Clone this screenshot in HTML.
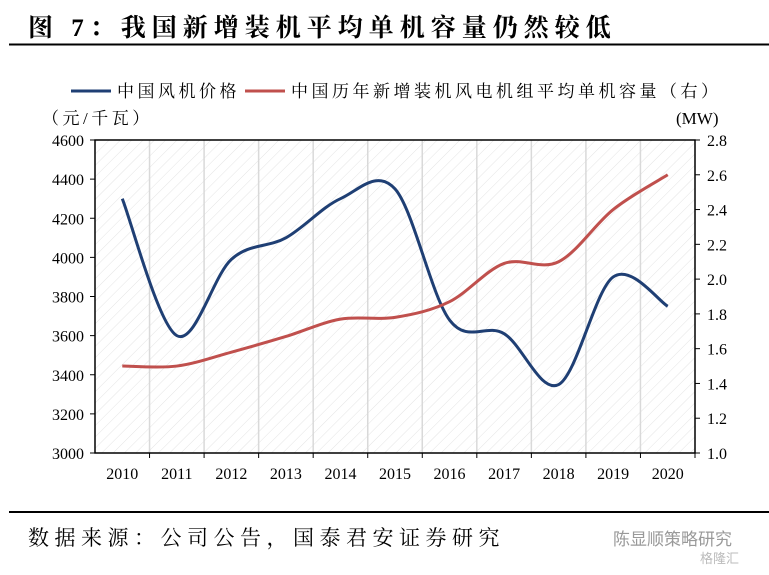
<!DOCTYPE html>
<html><head><meta charset="utf-8"><style>
body{margin:0;background:#fff;width:769px;height:570px;overflow:hidden;font-family:"Liberation Serif","Noto Serif CJK SC",serif}
</style></head><body>
<svg width="769" height="570" xmlns="http://www.w3.org/2000/svg">
<defs><pattern id="hatch" width="8" height="8" patternUnits="userSpaceOnUse" patternTransform="rotate(45)"><line x1="0" y1="0" x2="0" y2="8" stroke="#e4e4e4" stroke-width="1"/></pattern></defs>
<text x="28" y="36" font-size="25" font-weight="bold" letter-spacing="6" fill="#000" font-family="'Liberation Serif','Noto Serif CJK SC',serif">图 7：我国新增装机平均单机容量仍然较低</text>
<line x1="9" y1="44.5" x2="769" y2="44.5" stroke="#000" stroke-width="2"/>
<g font-family="'Liberation Serif','Noto Serif CJK SC',serif" font-size="17" letter-spacing="3.5">
<line x1="71" y1="91" x2="111" y2="91" stroke="#1f3f74" stroke-width="3"/>
<text x="117" y="97" fill="#000">中国风机价格</text>
<line x1="245" y1="91" x2="285" y2="91" stroke="#c0504d" stroke-width="3"/>
<text x="291" y="97" fill="#000">中国历年新增装机风电机组平均单机容量（右）</text>
</g>
<text x="42" y="124" font-size="17" letter-spacing="3.5" font-family="'Liberation Serif','Noto Serif CJK SC',serif">（元/千瓦）</text>
<text x="676" y="124" font-size="17">(MW)</text>
<rect x="95" y="140" width="600" height="313" fill="url(#hatch)"/>
<g id="grid"></g><g id="axes"></g><g id="series"></g>
<line x1="9" y1="512" x2="769" y2="512" stroke="#000" stroke-width="2"/>
<text x="28" y="545" font-size="21" letter-spacing="5.5" fill="#000" font-family="'Liberation Serif','Noto Serif CJK SC',serif">数据来源：公司公告，国泰君安证券研究</text>
<text x="613" y="545" font-size="17" fill="#999" font-family="'Liberation Sans','Noto Sans CJK SC',sans-serif">陈显顺策略研究</text>
<text x="700" y="563" font-size="13" fill="#bbb" font-family="'Liberation Sans','Noto Sans CJK SC',sans-serif">格隆汇</text>
</svg>
<script>
const categories=["2010","2011","2012","2013","2014","2015","2016","2017","2018","2019","2020"];
const priceValues=[4300,3600,3990,4100,4300,4350,3680,3610,3350,3900,3750];
const capacityValues=[1.5,1.5,1.58,1.67,1.77,1.78,1.87,2.09,2.1,2.4,2.6];
const leftTicks=[3000,3200,3400,3600,3800,4000,4200,4400,4600];
const rightTicks=[1.0,1.2,1.4,1.6,1.8,2.0,2.2,2.4,2.6,2.8];
const NS="http://www.w3.org/2000/svg";
const L=95,R=695,T=140,B=453,bw=(R-L)/categories.length;
const x=i=>L+bw*(i+0.5);
const yl=v=>B-(v-3000)/1600*(B-T);
const yr=v=>B-(v-1.0)/1.8*(B-T);
function mk(tag,attrs,parent){const e=document.createElementNS(NS,tag);for(const k in attrs)e.setAttribute(k,attrs[k]);document.getElementById(parent).appendChild(e);return e;}
for(let i=1;i<categories.length;i++){
 const g=mk('line',{x1:L+bw*i,y1:T,x2:L+bw*i,y2:B,stroke:'#d9d9d9','stroke-width':1.5},'grid');
 
 
}
const frame=mk('rect',{x:L,y:T,width:R-L,height:B-T,fill:'none',stroke:'#000','stroke-width':1.5},'axes');


leftTicks.forEach(v=>{
 mk('line',{x1:L-5,y1:yl(v),x2:L,y2:yl(v),stroke:'#000'},'axes');
 const t=mk('text',{x:L-11,y:yl(v)+6,'text-anchor':'end','font-size':16},'axes');t.textContent=v;
 
 
});
rightTicks.forEach(v=>{
 mk('line',{x1:R,y1:yr(v),x2:R+5,y2:yr(v),stroke:'#000'},'axes');
 const t=mk('text',{x:R+12,y:yr(v)+6,'font-size':16},'axes');t.textContent=v.toFixed(1);
 
 
});
categories.forEach((c,i)=>{
 mk('line',{x1:L+bw*(i+1),y1:B,x2:L+bw*(i+1),y2:B+5,stroke:'#000'},'axes');
 const t=mk('text',{x:x(i),y:B+26,'text-anchor':'middle','font-size':16},'axes');t.textContent=c;
 
 
});
function smooth(pts){let d=`M${pts[0][0]},${pts[0][1]}`;for(let i=0;i<pts.length-1;i++){const p0=pts[i-1]||pts[i],p1=pts[i],p2=pts[i+1],p3=pts[i+2]||p2;d+=` C${p1[0]+(p2[0]-p0[0])/6},${p1[1]+(p2[1]-p0[1])/6} ${p2[0]-(p3[0]-p1[0])/6},${p2[1]-(p3[1]-p1[1])/6} ${p2[0]},${p2[1]}`;}return d;}
const p1=mk('path',{d:smooth(priceValues.map((v,i)=>[x(i),yl(v)])),fill:'none',stroke:'#1f3f74','stroke-width':3},'series');


const p2=mk('path',{d:smooth(capacityValues.map((v,i)=>[x(i),yr(v)])),fill:'none',stroke:'#c0504d','stroke-width':3},'series');


</script>
</body></html>
